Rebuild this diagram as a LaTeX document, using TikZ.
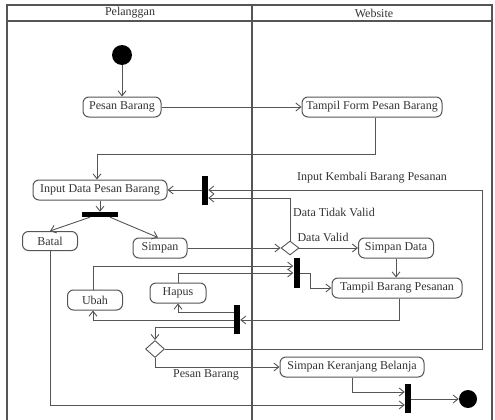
\documentclass[tikz,border=0pt]{standalone}
\usepackage{fontspec}
\setmainfont{Liberation Serif}
\usetikzlibrary{arrows.meta,shapes.geometric}
\definecolor{lc}{HTML}{555555}
\definecolor{tc}{HTML}{333333}
\begin{document}
\begin{tikzpicture}[x=1pt,y=-1pt,
  frame/.style={draw=lc, line width=1.2pt},
  ln/.style={draw=lc, line width=0.9pt},
  arr/.style={ln,-{Straight Barb[length=5pt,width=8pt]}},
  act/.style={draw=lc, line width=1pt, rounded corners=6pt, minimum height=20pt, inner sep=1pt, font=\fontsize{12}{12}\selectfont, text=tc},
  bar/.style={fill=black, draw=none, inner sep=0pt},
  dec/.style={diamond, draw=lc, line width=0.9pt, inner sep=0pt, fill=white},
  lbl/.style={font=\fontsize{12}{12}\selectfont, text=tc, inner sep=0pt},
  dot/.style={circle, fill=black, inner sep=0pt}
]
\useasboundingbox (0,0) rectangle (495,420);
% swimlane frame
\draw[frame] (7,430) -- (7,5) -- (492,5) -- (492,430);
\draw[frame] (7,21) -- (492,21);
\draw[frame] (252,5) -- (252,430);
\node[lbl] (lp) at (130,13) {Pelanggan};
\node[lbl] (lw) at (374,13) {Website};

% nodes
\node[dot, minimum size=20pt] (start) at (122,55) {};
\node[act, minimum width=78pt] (pesan) at (122,107) {Pesan Barang};
\node[act, minimum width=140pt] (tform) at (372,107) {Tampil Form Pesan Barang};
\node[act, minimum width=134pt] (input) at (100,190) {Input Data Pesan Barang};
\node[bar, minimum width=6pt, minimum height=29pt] (b1) at (205,190) {};
\node[bar, minimum width=36pt, minimum height=5pt] (b2) at (100,214.5) {};
\node[act, minimum width=55pt, minimum height=19pt] (batal) at (50,241) {Batal};
\node[act, minimum width=54pt] (simpan) at (160,248) {Simpan};
\node[dec, minimum width=18pt, minimum height=14pt] (d1) at (290,248) {};
\node[act, minimum width=75pt] (sdata) at (396,248) {Simpan Data};
\node[bar, minimum width=6pt, minimum height=30pt] (b3) at (296.5,273) {};
\node[act, minimum width=130pt] (tbarang) at (397,288) {Tampil Barang Pesanan};
\node[act, minimum width=55pt] (ubah) at (95,300) {Ubah};
\node[act, minimum width=56pt] (hapus) at (178,293) {Hapus};
\node[bar, minimum width=6pt, minimum height=29pt] (b4) at (237,319.5) {};
\node[dec, minimum width=19pt, minimum height=17pt] (d2) at (155,349) {};
\node[act, minimum width=144pt] (sker) at (352,367) {Simpan Keranjang Belanja};
\node[bar, minimum width=6pt, minimum height=29pt] (b5) at (408,398.5) {};
\node[dot, minimum size=18pt] (endn) at (468,399) {};

% waypoints
\coordinate (w1) at (375,154);
\coordinate (w2) at (97,154);
\coordinate (r1) at (482,349);
\coordinate (r2) at (482,190);
\coordinate (t1) at (290,198);
\coordinate (u1) at (93,266);
\coordinate (h1) at (178,273);
\coordinate (k1) at (310,273);
\coordinate (k2) at (310,288);
\coordinate (m1) at (399,320);
\coordinate (m2) at (93,320);
\coordinate (m3) at (178,312);
\coordinate (m4) at (155,327);
\coordinate (p1) at (155,367);
\coordinate (q1) at (352,392);
\coordinate (q2) at (50,405);

% connectors
\draw[arr] (start) -- (pesan);
\draw[arr] (pesan) -- (tform);
\draw[arr] (tform.south -| w1) -- (w1) -- (w2) -- (input.north -| w2);
\draw[arr] (b1.west) -- (input.east);
\draw[arr] (d2.east) -- (r1) -- (r2) -- (b1.east |- r2);
\node[lbl, anchor=south] (lk) at (372,183) {Input Kembali Barang Pesanan};
\draw[arr] (d1.north) -- (t1) -- (b1.east |- t1);
\node[lbl, anchor=west] (ltv) at (293,212) {Data Tidak Valid};
\draw[arr] (input.south) -- (b2.north);
\draw[arr] ([xshift=-10pt]b2.south) -- (batal.north);
\draw[arr] ([xshift=10pt]b2.south) -- ([xshift=-2pt]simpan.north);
\draw[arr] (simpan) -- (d1);
\draw[arr] (d1) -- (sdata);
\node[lbl] (ldv) at (323,237) {Data Valid};
\draw[arr] (sdata.south) -- (sdata.south |- tbarang.north);
\draw[arr] (ubah.north -| u1) -- (u1) -- (b3.west |- u1);
\draw[arr] (hapus.north) -- (h1) -- (b3.west |- h1);
\draw[arr] (b3.east |- k1) -- (k1) -- (k2) -- (tbarang.west |- k2);
\draw[arr] (tbarang.south -| m1) -- (m1) -- (b4.east |- m1);
\draw[arr] (b4.west |- m2) -- (m2) -- (ubah.south -| m2);
\draw[arr] (b4.west |- m3) -- (m3) -- (hapus.south);
\draw[arr] (b4.west |- m4) -- (m4) -- (d2.north);
\draw[arr] (d2.south) -- (p1) -- (sker.west |- p1);
\node[lbl] (lpb) at (206,375) {Pesan Barang};
\draw[arr] (sker.south) -- (q1) -- (b5.west |- q1);
\draw[arr] (batal.south -| q2) -- (q2) -- (b5.west |- q2);
\draw[arr] (b5.east |- endn) -- (endn);
\end{tikzpicture}
\end{document}
